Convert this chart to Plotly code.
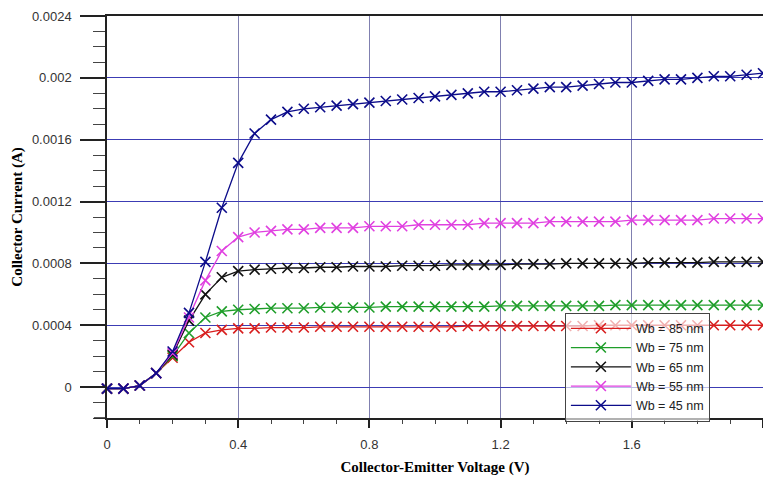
import plotly.graph_objects as go

vce = [0.0, 0.05, 0.1, 0.15, 0.2, 0.25, 0.3, 0.35, 0.4, 0.45, 0.5, 0.55, 0.6, 0.65, 0.7, 0.75,
       0.8, 0.85, 0.9, 0.95, 1.0, 1.05, 1.1, 1.15, 1.2, 1.25, 1.3, 1.35, 1.4, 1.45, 1.5, 1.55,
       1.6, 1.65, 1.7, 1.75, 1.8, 1.85, 1.9, 1.95, 2.0]

ic_85 = [-0.00001, -0.00001, 0.00001, 0.00009, 0.00019, 0.00029, 0.00035, 0.00037, 0.00038, 0.00038,
         0.000385, 0.000385, 0.000385, 0.00039, 0.00039, 0.00039, 0.00039, 0.00039, 0.00039, 0.00039,
         0.00039, 0.00039, 0.000395, 0.000395, 0.000395, 0.000395, 0.000395, 0.000395, 0.000395, 0.000395,
         0.0004, 0.0004, 0.0004, 0.0004, 0.0004, 0.0004, 0.0004, 0.0004, 0.0004, 0.0004, 0.0004]
ic_75 = [-0.00001, -0.00001, 0.00001, 0.00009, 0.00020, 0.00035, 0.00045, 0.00049, 0.00050, 0.000505,
         0.00051, 0.00051, 0.00051, 0.000515, 0.000515, 0.000515, 0.000515, 0.00052, 0.00052, 0.00052,
         0.00052, 0.00052, 0.00052, 0.00052, 0.000525, 0.000525, 0.000525, 0.000525, 0.000525, 0.000525,
         0.000525, 0.00053, 0.00053, 0.00053, 0.00053, 0.00053, 0.00053, 0.00053, 0.00053, 0.00053, 0.00053]
ic_65 = [-0.00001, -0.00001, 0.00001, 0.00009, 0.00021, 0.00043, 0.00060, 0.00071, 0.00075, 0.00076,
         0.000765, 0.00077, 0.00077, 0.000775, 0.000775, 0.00078, 0.00078, 0.00078, 0.000785, 0.000785,
         0.000785, 0.00079, 0.00079, 0.00079, 0.00079, 0.000795, 0.000795, 0.000795, 0.0008, 0.0008,
         0.0008, 0.0008, 0.0008, 0.000805, 0.000805, 0.000805, 0.000805, 0.00081, 0.00081, 0.00081, 0.00081]
ic_55 = [-0.00001, -0.00001, 0.00001, 0.00009, 0.00022, 0.00045, 0.00069, 0.00088, 0.00097, 0.00100,
         0.00101, 0.00102, 0.00102, 0.00103, 0.00103, 0.00103, 0.00104, 0.00104, 0.00104, 0.00105,
         0.00105, 0.00105, 0.00105, 0.00106, 0.00106, 0.00106, 0.00106, 0.00107, 0.00107, 0.00107,
         0.00107, 0.00107, 0.00108, 0.00108, 0.00108, 0.00108, 0.00108, 0.00109, 0.00109, 0.00109, 0.00109]
ic_45 = [-0.00001, -0.00001, 0.00001, 0.00009, 0.00023, 0.00048, 0.00081, 0.00116, 0.00145, 0.00164,
         0.00173, 0.00178, 0.00180, 0.00181, 0.00182, 0.00183, 0.00184, 0.00185, 0.00186, 0.00187,
         0.00188, 0.00189, 0.00190, 0.00191, 0.00191, 0.00192, 0.00193, 0.00194, 0.00194, 0.00195,
         0.00196, 0.00197, 0.00197, 0.00198, 0.00199, 0.00199, 0.00200, 0.00201, 0.00201, 0.00202, 0.00203]

series_names = ["Wb = 85 nm", "Wb = 75 nm", "Wb = 65 nm", "Wb = 55 nm", "Wb = 45 nm"]
series_values = [ic_85, ic_75, ic_65, ic_55, ic_45]
series_colors = ["#d81e1e", "#1f9e2a", "#111111", "#e040e0", "#0c0c8a"]

y_tick_vals = [0, 0.0004, 0.0008, 0.0012, 0.0016, 0.002, 0.0024]
y_tick_text = ["0", "0.0004", "0.0008", "0.0012", "0.0016", "0.002", "0.0024"]
x_tick_vals = [0, 0.4, 0.8, 1.2, 1.6, 2.0]
x_tick_text = ["0", "0.4", "0.8", "1.2", "1.6", "2"]

fig = go.Figure()
for name, vals, col in zip(series_names, series_values, series_colors):
    fig.add_trace(go.Scatter(
        x=vce, y=vals, name=name, mode="lines+markers", cliponaxis=False,
        line=dict(color=col, width=1.3),
        marker=dict(symbol="x-thin", size=10, line=dict(color=col, width=1.6), color=col),
    ))

tick_font = dict(family="Liberation Sans Narrow, Arial Narrow, Liberation Sans, Arial", size=13, color="#333333")
title_font = dict(family="Liberation Serif, Times New Roman, serif", size=15, color="black")

fig.update_layout(
    width=763, height=479,
    margin=dict(l=107, r=0, t=16, b=61),
    paper_bgcolor="white", plot_bgcolor="white",
    showlegend=True,
    legend=dict(
        x=0.698, y=0.262, xanchor="left", yanchor="top",
        bgcolor="rgba(255,255,255,0.65)", bordercolor="#444444", borderwidth=1,
        font=dict(family="Liberation Sans, Arial", size=12.5, color="#222222"),
        tracegroupgap=0, itemwidth=60,
    ),
    xaxis=dict(
        range=[0, 2.0], tickmode="array", tickvals=x_tick_vals, ticktext=x_tick_text,
        ticks="outside", ticklen=8, tickwidth=2, tickcolor="#222222",
        minor=dict(dtick=0.1, ticks="outside", ticklen=4, tickwidth=1, tickcolor="#444444", showgrid=False),
        showgrid=True, gridcolor="#8080b0", gridwidth=1,
        showline=True, linecolor="#222222", linewidth=1.5, mirror=True,
        zeroline=False, tickfont=tick_font, ticklabelstandoff=6, automargin=False,
        title=dict(text="<b>Collector-Emitter Voltage (V)</b>", font=title_font, standoff=10),
    ),
    yaxis=dict(
        range=[-0.0002, 0.0024], tickmode="array", tickvals=y_tick_vals, ticktext=y_tick_text,
        ticks="outside", ticklen=25, tickwidth=2, tickcolor="#222222",
        minor=dict(dtick=0.0001, tick0=0, ticks="outside", ticklen=12, tickwidth=1, tickcolor="#444444", showgrid=False),
        showgrid=True, gridcolor="#3c3cb4", gridwidth=1,
        showline=True, linecolor="#222222", linewidth=1.5,
        zeroline=False, tickfont=tick_font, ticklabelstandoff=6, automargin=False,
        title=dict(text="<b>Collector Current (A)</b>", font=title_font, standoff=6),
    ),
)

fig.add_shape(type="line", xref="paper", yref="paper", x0=-0.02, x1=0, y0=0, y1=0,
              line=dict(color="#222222", width=1.5))

fig.write_html("out.html", config={"displayModeBar": False},
               post_script="document.body.style.margin='0';document.body.style.overflow='hidden';")
